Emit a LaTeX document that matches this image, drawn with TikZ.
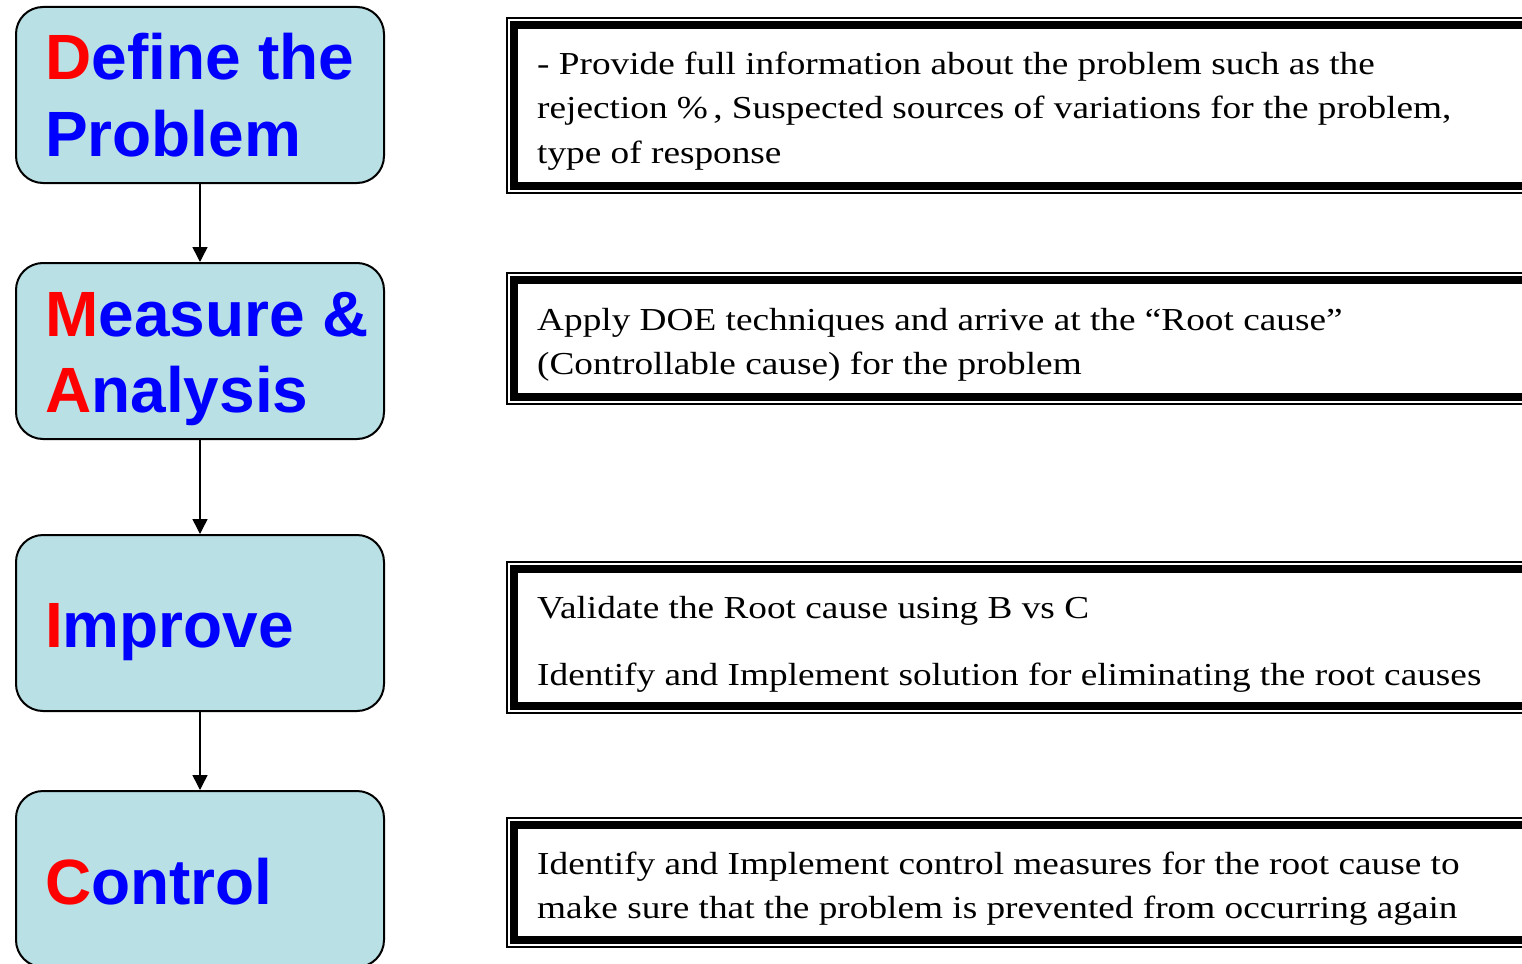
\documentclass[tikz,border=0pt]{standalone}
\usepackage{fontspec}
\setmainfont{Liberation Serif}[FakeStretch=1.165]
\newfontfamily\headfont{Liberation Sans}
\usetikzlibrary{arrows.meta}
\definecolor{boxfill}{RGB}{185,224,228}
\definecolor{hred}{RGB}{255,0,0}
\definecolor{hblue}{RGB}{0,0,255}
\begin{document}
\begin{tikzpicture}[x=1pt,y=-1pt,
 leftbox/.style={draw=black,line width=2pt,fill=boxfill,rounded corners=27pt,minimum width=368pt,minimum height=176pt,inner sep=0pt},
 headtext/.style={anchor=base west,inner sep=0pt,font=\headfont\bfseries\fontsize{64}{76}\selectfont,text=hblue},
 bodytext/.style={anchor=base west,inner sep=0pt,font=\fontsize{32}{44}\selectfont,text=black},
 outerbox/.style={draw=black,line width=1.5pt,minimum width=1033pt,inner sep=0pt},
 innerbox/.style={draw=black,line width=7.5pt,minimum width=1018.6pt,inner sep=0pt},
 flow/.style={draw=black,line width=1.5pt,-{Triangle[length=15pt,width=15pt]}}]
\useasboundingbox (0,0) rectangle (1522,963);
\clip (0,0) rectangle (1522,963);
\fill[white] (0,0) rectangle (1522,963);

% left process boxes
\node[leftbox] (b1) at (200,95) {};
\node[leftbox] (b2) at (200,351) {};
\node[leftbox] (b3) at (200,623) {};
\node[leftbox] (b4) at (200,879) {};

\node[headtext] (t1a) at (45,80) {\textcolor{hred}{D}efine the};
\node[headtext] (t1b) at (45,156.5) {Problem};
\node[headtext] (t2a) at (45,336) {\textcolor{hred}{M}easure \&};
\node[headtext] (t2b) at (45,412) {\textcolor{hred}{A}nalysis};
\node[headtext] (t3) at (45,647) {\textcolor{hred}{I}mprove};
\node[headtext] (t4) at (45,904) {\textcolor{hred}{C}ontrol};

\draw[flow] (b1.south) -- (b2.north);
\draw[flow] (b2.south) -- (b3.north);
\draw[flow] (b3.south) -- (b4.north);

% right description boxes
\node[outerbox,minimum height=175pt] (r1) at (1023.5,105.5) {};
\node[innerbox,minimum height=160.6pt] (r1i) at (1023.5,105.5) {};
\node[outerbox,minimum height=131pt] (r2) at (1023.5,338.5) {};
\node[innerbox,minimum height=116.6pt] (r2i) at (1023.5,338.5) {};
\node[outerbox,minimum height=151pt] (r3) at (1023.5,637.5) {};
\node[innerbox,minimum height=136.6pt] (r3i) at (1023.5,637.5) {};
\node[outerbox,minimum height=129pt] (r4) at (1023.5,882.5) {};
\node[innerbox,minimum height=114.6pt] (r4i) at (1023.5,882.5) {};

\node[bodytext] (d1a) at (537,74.3) {- Provide full information about the problem such as the};
\node[bodytext] (d1b) at (537,118.7) {rejection \%\,, Suspected sources of variations for the problem,};
\node[bodytext] (d1c) at (537,163) {type of response};
\node[bodytext] (d2a) at (537,330) {Apply DOE techniques and arrive at the “Root cause”};
\node[bodytext] (d2b) at (537,374) {(Controllable cause) for the problem};
\node[bodytext] (d3a) at (537,618) {Validate the Root cause using B vs C};
\node[bodytext] (d3b) at (537,685) {Identify and Implement solution for eliminating the root causes};
\node[bodytext] (d4a) at (537,874) {Identify and Implement control measures for the root cause to};
\node[bodytext] (d4b) at (537,918) {make sure that the problem is prevented from occurring again};
\end{tikzpicture}
\end{document}
